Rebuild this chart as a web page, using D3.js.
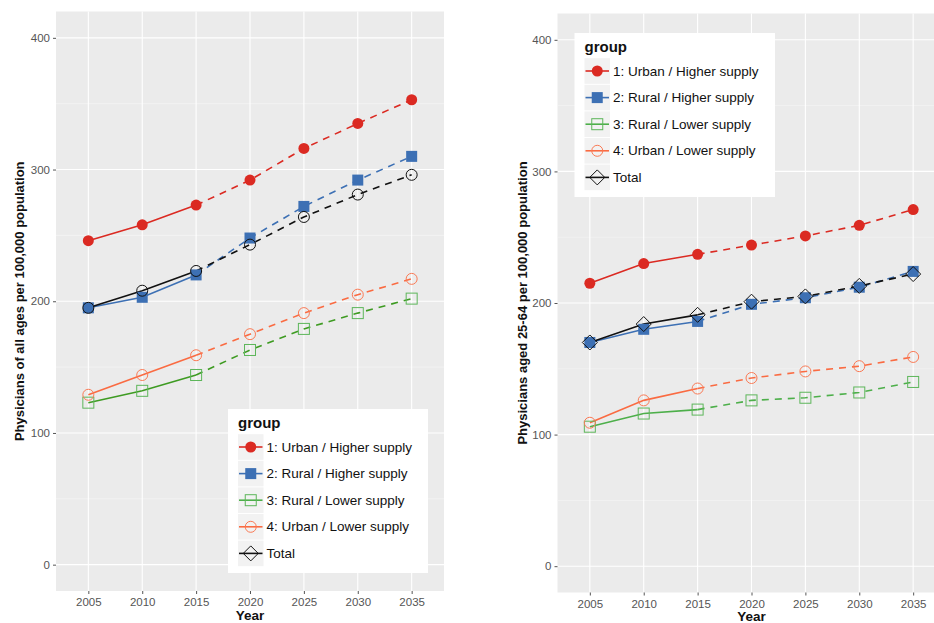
<!DOCTYPE html>
<html>
<head>
<meta charset="utf-8">
<script src="https://cdn.jsdelivr.net/npm/d3@7"></script>
<style>
  html, body { margin: 0; padding: 0; background: #fff; }
  svg { display: block; font-family: "Liberation Sans", Arial, sans-serif; }
</style>
</head>
<body>
<svg id="chart" width="934" height="623"></svg>
<script>
// Physician supply per 100,000 population, observed 2005-2015, projected 2015-2035
const years = [2005, 2010, 2015, 2020, 2025, 2030, 2035];
const groups = ["1: Urban / Higher supply", "2: Rural / Higher supply", "3: Rural / Lower supply", "4: Urban / Lower supply", "Total"];
const yTicks = [0, 100, 200, 300, 400];

// All ages
const allAgesUrbanHigher = [246, 258, 273, 292, 316, 335, 353];
const allAgesRuralHigher = [195, 203, 220, 248, 272, 292, 310];
const allAgesRuralLower  = [123, 132, 144, 163, 179, 191, 202];
const allAgesUrbanLower  = [129, 144, 159, 175, 191, 205, 217];
const allAgesTotal       = [195, 208, 223, 243, 264, 281, 296];

// Aged 25-64
const agedUrbanHigher = [215, 230, 237, 244, 251, 259, 271];
const agedRuralHigher = [170, 180, 186, 199, 204, 212, 224];
const agedRuralLower  = [106, 116, 119, 126, 128, 132, 140];
const agedUrbanLower  = [109, 126, 135, 143, 148, 152, 159];
const agedTotal       = [170, 184, 191, 201, 205, 213, 222];

const colors = ["#DB2A22", "#3D70B4", "#4DAF4A", "#FA6B42", "#111111"];
const shapes = ["fcircle", "fsquare", "osquare", "ocircle", "diamond"];

const svg = d3.select("#chart");

function drawMarker(g, shape, x, y, color) {
  if (shape === "fcircle") {
    g.append("circle").attr("cx", x).attr("cy", y).attr("r", 5.5).attr("fill", color);
  } else if (shape === "fsquare") {
    g.append("rect").attr("x", x - 5.5).attr("y", y - 5.5).attr("width", 11).attr("height", 11).attr("fill", color);
  } else if (shape === "osquare") {
    g.append("rect").attr("x", x - 5.5).attr("y", y - 5.5).attr("width", 11).attr("height", 11)
      .attr("fill", "none").attr("stroke", color).attr("stroke-width", 1);
  } else if (shape === "ocircle") {
    g.append("circle").attr("cx", x).attr("cy", y).attr("r", 5.5)
      .attr("fill", "none").attr("stroke", color).attr("stroke-width", 1);
  } else if (shape === "diamond") {
    g.append("path").attr("d", `M${x},${y - 7.5}L${x + 7.5},${y}L${x},${y + 7.5}L${x - 7.5},${y}Z`)
      .attr("fill", "none").attr("stroke", color).attr("stroke-width", 1);
  }
}

function panel(opts) {
  const { left, top, width, height, series, totalShape, lineColors, markerColors, yTitle, yTitleX, yearY, legend } = opts;
  const x = d3.scaleLinear().domain([2002, 2038]).range([left, left + width]);
  const y = d3.scaleLinear().domain([-20, 420]).range([top + height, top]);
  const g = svg.append("g");

  const clipId = "clip" + Math.round(left);
  svg.append("clipPath").attr("id", clipId)
    .append("rect").attr("x", left).attr("y", top).attr("width", width).attr("height", height);

  g.append("rect").attr("x", left).attr("y", top).attr("width", width).attr("height", height).attr("fill", "#EBEBEB");

  // minor grid
  const minor = [50, 150, 250, 350];
  g.selectAll(".ymin").data(minor).join("line")
    .attr("x1", left).attr("x2", left + width).attr("y1", d => y(d)).attr("y2", d => y(d))
    .attr("stroke", "#F7F7F7").attr("stroke-width", 0.6);
  // major grid
  g.selectAll(".ymaj").data(yTicks).join("line")
    .attr("x1", left).attr("x2", left + width).attr("y1", d => y(d)).attr("y2", d => y(d))
    .attr("stroke", "#FFFFFF").attr("stroke-width", 1.1);
  g.selectAll(".xmaj").data(years).join("line")
    .attr("x1", d => x(d)).attr("x2", d => x(d)).attr("y1", top).attr("y2", top + height)
    .attr("stroke", "#FFFFFF").attr("stroke-width", 1.1);

  // axes
  const yAxis = d3.axisLeft(y).tickValues(yTicks).tickSize(3).tickPadding(3);
  const ya = g.append("g").attr("transform", `translate(${left},0)`).call(yAxis);
  const xAxis = d3.axisBottom(x).tickValues(years).tickFormat(d3.format("d")).tickSize(3).tickPadding(4);
  const xa = g.append("g").attr("transform", `translate(0,${top + height})`).call(xAxis);
  [ya, xa].forEach(a => {
    a.select(".domain").remove();
    a.selectAll(".tick line").attr("stroke", "#555");
    a.selectAll(".tick text").attr("fill", "#555").attr("font-size", 11.5);
  });

  // axis titles
  g.append("text")
    .attr("transform", `translate(${yTitleX},${(y(420) + y(-20)) / 2}) rotate(-90)`)
    .attr("text-anchor", "middle").attr("dominant-baseline", "central")
    .attr("font-size", 13).attr("font-weight", "bold").attr("fill", "#111").text(yTitle);
  g.append("text").attr("x", x(2020)).attr("y", yearY)
    .attr("text-anchor", "middle").attr("font-size", 13.5).attr("font-weight", "bold")
    .attr("fill", "#111").text("Year");

  // series lines and markers
  const plot = g.append("g").attr("clip-path", `url(#${clipId})`);
  const line = d3.line().x(d => x(d.year)).y(d => y(d.value));
  const order = [2, 3, 1, 4, 0];
  order.forEach(i => {
    const pts = years.map((yr, k) => ({ year: yr, value: series[i][k] }));
    plot.append("path").datum(pts.filter(p => p.year <= 2015)).attr("d", line)
      .attr("fill", "none").attr("stroke", lineColors[i]).attr("stroke-width", 1.6);
    plot.append("path").datum(pts.filter(p => p.year >= 2015)).attr("d", line)
      .attr("fill", "none").attr("stroke", lineColors[i]).attr("stroke-width", 1.6)
      .attr("stroke-dasharray", "7,6");
  });
  order.forEach(i => {
    const shape = i === 4 ? totalShape : shapes[i];
    years.forEach((yr, k) => drawMarker(plot, shape, x(yr), y(series[i][k]), markerColors[i]));
  });

  // legend
  const lg = g.append("g");
  lg.append("rect").attr("x", legend.x).attr("y", legend.y).attr("width", legend.w).attr("height", legend.h).attr("fill", "#fff");
  lg.append("text").attr("x", legend.x + 10).attr("y", legend.y + 19)
    .attr("font-size", 15).attr("font-weight", "bold").attr("fill", "#111").text("group");
  groups.forEach((name, i) => {
    const cy = legend.y + 38 + i * 26.6;
    const kx = legend.x + 10;
    lg.append("rect").attr("x", kx).attr("y", cy - 12.8).attr("width", 25.5).attr("height", 25.6).attr("fill", "#F2F2F2");
    lg.append("line").attr("x1", kx + 1).attr("x2", kx + 24.5).attr("y1", cy).attr("y2", cy)
      .attr("stroke", colors[i]).attr("stroke-width", 1.6);
    drawMarker(lg, shapes[i], kx + 12.75, cy, i === 2 ? "#5DB65A" : i === 3 ? "#FA7A55" : colors[i]);
    lg.append("text").attr("x", kx + 28.5).attr("y", cy).attr("dominant-baseline", "central")
      .attr("font-size", 13.5).attr("fill", "#111").text(name);
  });
}

panel({
  left: 56, top: 11.5, width: 388, height: 579.5,
  series: [allAgesUrbanHigher, allAgesRuralHigher, allAgesRuralLower, allAgesUrbanLower, allAgesTotal],
  totalShape: "ocircle",
  lineColors: ["#DB2A22", "#3D70B4", "#3E9B22", "#FA6B42", "#111111"],
  markerColors: ["#DB2A22", "#3D70B4", "#5DB65A", "#FA7A55", "#111111"],
  yTitle: "Physicians of all ages per 100,000 population", yTitleX: 19,
  yearY: 620,
  legend: { x: 228, y: 409, w: 200, h: 164 }
});

panel({
  left: 557.5, top: 13.5, width: 388, height: 579,
  series: [agedUrbanHigher, agedRuralHigher, agedRuralLower, agedUrbanLower, agedTotal],
  totalShape: "diamond",
  lineColors: ["#DB2A22", "#3D70B4", "#4DAF4A", "#FA6B42", "#111111"],
  markerColors: ["#DB2A22", "#3D70B4", "#5DB65A", "#FA7A55", "#111111"],
  yTitle: "Physicians aged 25-64 per 100,000 population", yTitleX: 522,
  yearY: 621,
  legend: { x: 574.5, y: 33, w: 200.5, h: 164 }
});
</script>
</body>
</html>
